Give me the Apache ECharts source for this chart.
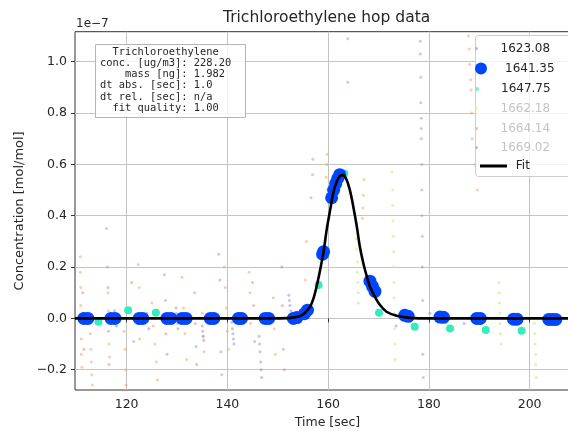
<!DOCTYPE html>
<html><head><meta charset="utf-8">
<script src="https://cdn.jsdelivr.net/npm/echarts@6/dist/echarts.min.js"></script>
<style>html,body{margin:0;padding:0;background:#fff}#c{width:568px;height:431px}</style>
</head><body><div id="c"></div>
<script>
// ---------- data ----------
const titleText = 'Trichloroethylene hop data';
const xName = 'Time [sec]';
const yName = 'Concentration [mol/mol]';
const yScaleText = '1e\u22127';
const xTicks = [120, 140, 160, 180, 200];
const yTicks = [-0.2, 0.0, 0.2, 0.4, 0.6, 0.8, 1.0];
const seriesNames = ['1623.08', '1641.35', '1647.75', '1662.18', '1664.14', '1669.02', 'Fit'];
const infoLines = [
  '  Trichloroethylene',
  'conc. [ug/m3]: 228.20',
  '    mass [ng]: 1.982',
  'dt abs. [sec]: 1.0',
  'dt rel. [sec]: n/a',
  '  fit quality: 1.00'
];
// values in units of 1e-7 mol/mol, time in seconds
const hop1623 = [
  [117.6,0.03],[117.8,0.0],[118.0,-0.03],
  [124.0,0.02],[124.2,-0.01],[124.4,-0.04],
  [129.8,0.04],[129.9,0.02],[130.0,0.0],[130.1,-0.02],[130.2,-0.04],
  [135.0,-0.03],[135.1,-0.05],[135.2,-0.07],[135.3,-0.085],
  [140.9,-0.015],[141.0,-0.04],[141.1,-0.06],[141.2,-0.08],[141.3,-0.1],
  [146.3,-0.07],[146.4,-0.1],[146.5,-0.13],[146.6,-0.17],[146.7,-0.2],[146.8,-0.23],
  [152.2,0.09],[152.3,0.07],[152.4,0.05],[152.6,0.03],[152.9,0.02],
  [173.5,-0.03],[180.2,0.02],[187.0,-0.02]
];
const hop1641 = [
  [111.5,0],[112.3,0],
  [116.9,0],[117.7,0],
  [122.5,0],[123.2,0],
  [128.0,0],[128.8,0],
  [131.0,0],[131.8,0],
  [136.6,0],[137.3,0],
  [142.2,0],[142.8,0],
  [147.5,0],[148.2,0],
  [153.1,0],[153.8,0.003],
  [155.3,0.018],[155.9,0.032],
  [158.9,0.25],[159.1,0.26],
  [160.7,0.47],[161.1,0.5],[161.5,0.525],[161.9,0.545],[162.3,0.56],
  [168.3,0.145],[168.8,0.125],[169.3,0.105],
  [175.2,0.012],[175.9,0.008],
  [182.2,0.005],[182.9,0.004],
  [189.5,0.0],[190.2,0.0],
  [196.8,-0.003],[197.5,-0.003],
  [203.8,-0.004],[204.5,-0.004],[205.2,-0.004]
];
const hop1647 = [
  [114.4,-0.013],[120.3,0.032],[125.8,0.022],[131.4,0.0],[137.0,0.0],
  [158.1,0.13],[163.2,0.565],[170.1,0.022],
  [177.2,-0.033],[184.2,-0.039],[191.3,-0.045],[198.4,-0.048]
];
const hop1662 = [
  [165.6,0.31],[165.7,0.27],[165.8,0.22],[165.8,0.18],[165.9,0.14],[166.0,0.1],[166.0,0.06],
  [172.7,0.57],[172.8,0.5],[172.8,0.44],[172.9,0.38],[172.9,0.32],[173.0,0.26],[173.0,0.2],
  [173.1,0.14],[173.1,0.08],[173.2,0.02],[173.2,-0.04],[173.3,-0.1],[173.3,-0.16],
  [193.9,0.14],[194.0,0.1],[194.0,0.06],[194.1,0.02],[194.1,-0.02],[194.2,-0.06],[194.3,-0.1],
  [200.9,-0.02],[201.0,-0.06],[201.1,-0.1],[201.2,-0.14],[201.2,-0.18],[201.3,-0.23]
];
const hop1664 = [
  [110.8,0.24],[110.8,0.18],[110.9,0.12],[110.9,0.05],[111.0,-0.08],[111.0,-0.14],[111.1,-0.19],
  [112.8,-0.06],[112.9,-0.12],[113.0,-0.17],[113.1,-0.22],[113.2,-0.26],
  [116.3,0.1],[116.4,0.03],[116.5,-0.1],[116.6,-0.15],
  [119.5,-0.05],[119.7,-0.12],[119.8,-0.2],[119.9,-0.26],
  [122.3,0.21],[122.5,0.12],[122.6,-0.08],
  [125.0,0.06],[125.3,-0.03],[125.6,-0.1],[125.9,-0.17],[126.1,-0.24],
  [131.0,0.16],[131.3,0.04],[131.6,-0.06],[131.9,-0.16],
  [135.0,0.02],[135.2,-0.07],[135.4,-0.13],
  [139.4,0.2],[139.6,0.12],[139.8,0.04],[140.0,-0.05],[140.2,-0.12],
  [144.3,0.18],[144.5,0.1],[144.6,-0.02],
  [149.1,0.08],[149.3,-0.04],[149.5,-0.14],
  [155.5,0.15],[155.7,0.3],
  [159.6,0.55],[159.7,0.6],[159.8,0.64],[159.9,0.5],
  [166.8,0.39],[166.9,0.43],[167.0,0.48],[167.1,0.54],
  [187.9,1.1],[188.0,1.05],[188.1,0.99],[188.3,0.93],[188.4,0.89],[188.5,0.8],[188.6,0.7],
  [189.2,0.6],[189.6,0.5]
];
const hop1669 = [
  [111.3,0.1],[111.4,0.02],[111.5,-0.12],
  [116.0,0.35],[116.2,0.2],[116.3,0.12],[116.4,-0.05],[116.5,-0.18],
  [121.0,0.14],[121.2,0.0],[121.4,-0.09],
  [127.5,0.17],[127.7,0.07],[127.8,-0.06],[128.0,-0.14],
  [133.5,0.1],[133.6,-0.02],[133.8,-0.11],[133.9,-0.18],
  [138.3,0.25],[138.5,0.15],[138.7,-0.13],[138.9,-0.22],
  [145.0,0.14],[145.2,0.05],[145.4,-0.09],
  [150.8,0.2],[150.9,0.05],[151.1,-0.12],[151.3,-0.2],
  [156.6,0.47],[156.9,0.56],[157.0,0.62],
  [163.9,1.09],[163.9,0.92],
  [178.3,1.08],[178.3,1.03],[178.4,0.94],[178.4,0.84],[178.5,0.78],[178.5,0.74],[178.5,0.7],
  [178.6,0.6],[178.6,0.5],[178.6,0.4],[178.7,0.32],[178.7,0.2],[178.8,0.07],[178.8,-0.14],[178.9,-0.23]
];
const fitCurve = [
  [109.75,0],[130,0],[148,0],[152,0.001],[153.5,0.005],[154.5,0.01],[155.4,0.022],[156.4,0.045],
  [157.1,0.078],[157.7,0.123],[158.4,0.188],[159.1,0.26],[159.7,0.344],[160.4,0.422],[161.0,0.487],
  [161.7,0.532],[162.4,0.556],[163.0,0.558],[163.7,0.538],[164.4,0.493],[165.0,0.435],[165.7,0.357],
  [166.3,0.279],[167.0,0.214],[167.7,0.162],[168.3,0.123],[169.3,0.084],[170.3,0.052],[171.6,0.026],
  [173.6,0.01],[176.3,0.002],[180.2,0],[195,0],[210,0]
];

// ---------- styling ----------
const FONT = "'DejaVu Sans', sans-serif";
const MONO = "'DejaVu Sans Mono', monospace";
const seriesData = [hop1623, hop1641, hop1647, hop1662, hop1664, hop1669];
const seriesStyle = [
  {color:'#8a8ad0', size:3, opacity:0.5, z:2},
  {color:'#0046ff', size:13, opacity:1, z:5},
  {color:'#36ecbc', size:8, opacity:1, z:4},
  {color:'#d2ea86', size:3, opacity:0.65, z:2},
  {color:'#f59a66', size:3, opacity:0.5, z:2},
  {color:'#c98a8a', size:3, opacity:0.5, z:2}
];
const legendStyle = [
  {top:42.5, h:3,  icon:'circle', color:'#b4b4e6', text:'#262626'},
  {top:62.5, h:12, icon:'circle', color:'#0046ff', text:'#262626'},
  {top:83,   h:4,  icon:'circle', color:'#7af0d0', text:'#262626'},
  {top:103,  h:3,  icon:'circle', color:'#e6f5b0', text:'#c4c4c4'},
  {top:122.5,h:3,  icon:'circle', color:'#f8b896', text:'#c4c4c4'},
  {top:141.5,h:3,  icon:'circle', color:'#e2aaaa', text:'#c4c4c4'},
  {top:160,  h:3,  icon:'rect',   color:'#000000', text:'#262626'}
];

const isMult = (v, step) => Math.abs(v / step - Math.round(v / step)) < 1e-6;

const series = seriesData.map((d, i) => ({
  name: seriesNames[i],
  type: 'scatter',
  data: d,
  symbol: 'circle',
  symbolSize: seriesStyle[i].size,
  z: seriesStyle[i].z,
  itemStyle: {color: seriesStyle[i].color, opacity: seriesStyle[i].opacity},
  emphasis: {disabled: true},
  silent: true
}));
series.push({
  name: 'Fit',
  type: 'line',
  data: fitCurve,
  showSymbol: false,
  symbol: 'none',
  smooth: 0.3,
  z: 6,
  lineStyle: {color: '#000', width: 2.6},
  itemStyle: {color: '#000'},
  emphasis: {disabled: true},
  silent: true
});

const legends = seriesNames.map((n, i) => {
  const L = legendStyle[i];
  const isFit = n === 'Fit';
  return {
    orient: 'vertical',
    left: isFit ? 480 : 475,
    top: L.top,
    padding: 0,
    itemWidth: isFit ? 27 : 38,
    itemHeight: L.h,
    selectedMode: false,
    formatter: isFit ? ' {name}' : '{name}',
    textStyle: {fontFamily: FONT, fontSize: 12, color: L.text},
    data: [{name: n, icon: L.icon, itemStyle: {color: L.color, opacity: 1, borderWidth: 0}, textStyle: {color: L.text}}]
  };
});

const chart = echarts.init(document.getElementById('c'), null, {renderer: 'canvas'});
chart.setOption({
  animation: false,
  backgroundColor: '#fff',
  title: {
    text: titleText,
    left: 223, top: 10, padding: 0,
    textStyle: {fontFamily: FONT, fontSize: 15.5, fontWeight: 'normal', color: '#262626'}
  },
  legend: legends,
  grid: {left: 75, right: -12, top: 31.7, bottom: 41, show: true, borderColor: '#333', borderWidth: 1,
    backgroundColor: 'transparent', containLabel: false, outerBoundsMode: 'none'},
  xAxis: {
    type: 'value', min: 109.75, max: 210, splitNumber: 5,
    axisLine: {show: false},
    axisTick: {show: true, inside: false, length: 4, customValues: xTicks, lineStyle: {color: '#333'}},
    axisLabel: {customValues: xTicks, margin: 8, fontFamily: FONT, fontSize: 12.5, color: '#262626',
      formatter: v => isMult(v, 20) ? String(Math.round(v)) : ''},
    splitLine: {show: true, lineStyle: {color: '#c4c4c4', width: 1}},
    name: xName, nameLocation: 'middle', nameGap: 26,
    nameTextStyle: {fontFamily: FONT, fontSize: 12.5, color: '#262626'}
  },
  yAxis: {
    type: 'value', min: -0.279, max: 1.117, splitNumber: 7,
    axisLine: {show: false},
    axisTick: {show: true, inside: false, length: 4, customValues: yTicks, lineStyle: {color: '#333'}},
    axisLabel: {customValues: yTicks, margin: 8, fontFamily: FONT, fontSize: 12.5, color: '#262626',
      formatter: v => {
        if (!isMult(v, 0.2)) return '';
        const s = Math.abs(v).toFixed(1);
        return v < -1e-9 ? '\u2212' + s : s;
      }},
    splitLine: {show: true, lineStyle: {color: '#c4c4c4', width: 1}},
    name: yName, nameLocation: 'middle', nameGap: 44,
    nameTextStyle: {fontFamily: FONT, fontSize: 13, color: '#262626'}
  },
  graphic: [
    {type: 'rect', z: 3, silent: true,
      shape: {x: 95.5, y: 44.5, width: 150, height: 73},
      style: {fill: 'rgba(255,255,255,0.8)', stroke: '#b4b4b4', lineWidth: 1}},
    {type: 'text', z: 4, silent: true,
      style: {text: infoLines.join('\n'), x: 100, y: 46.4, font: '10.4px ' + MONO, lineHeight: 11.2, fill: '#262626', align: 'left', verticalAlign: 'top'}},
    {type: 'rect', z: 3, silent: true,
      shape: {x: 475.5, y: 35.5, width: 120, height: 141, r: 3},
      style: {fill: 'rgba(255,255,255,0.8)', stroke: '#cccccc', lineWidth: 1}},
    {type: 'text', z: 4, silent: true,
      style: {text: yScaleText, x: 76, y: 23.5, font: '12px ' + FONT, fill: '#262626', align: 'left', verticalAlign: 'middle'}}
  ],
  series: series
});
</script>
</body></html>
